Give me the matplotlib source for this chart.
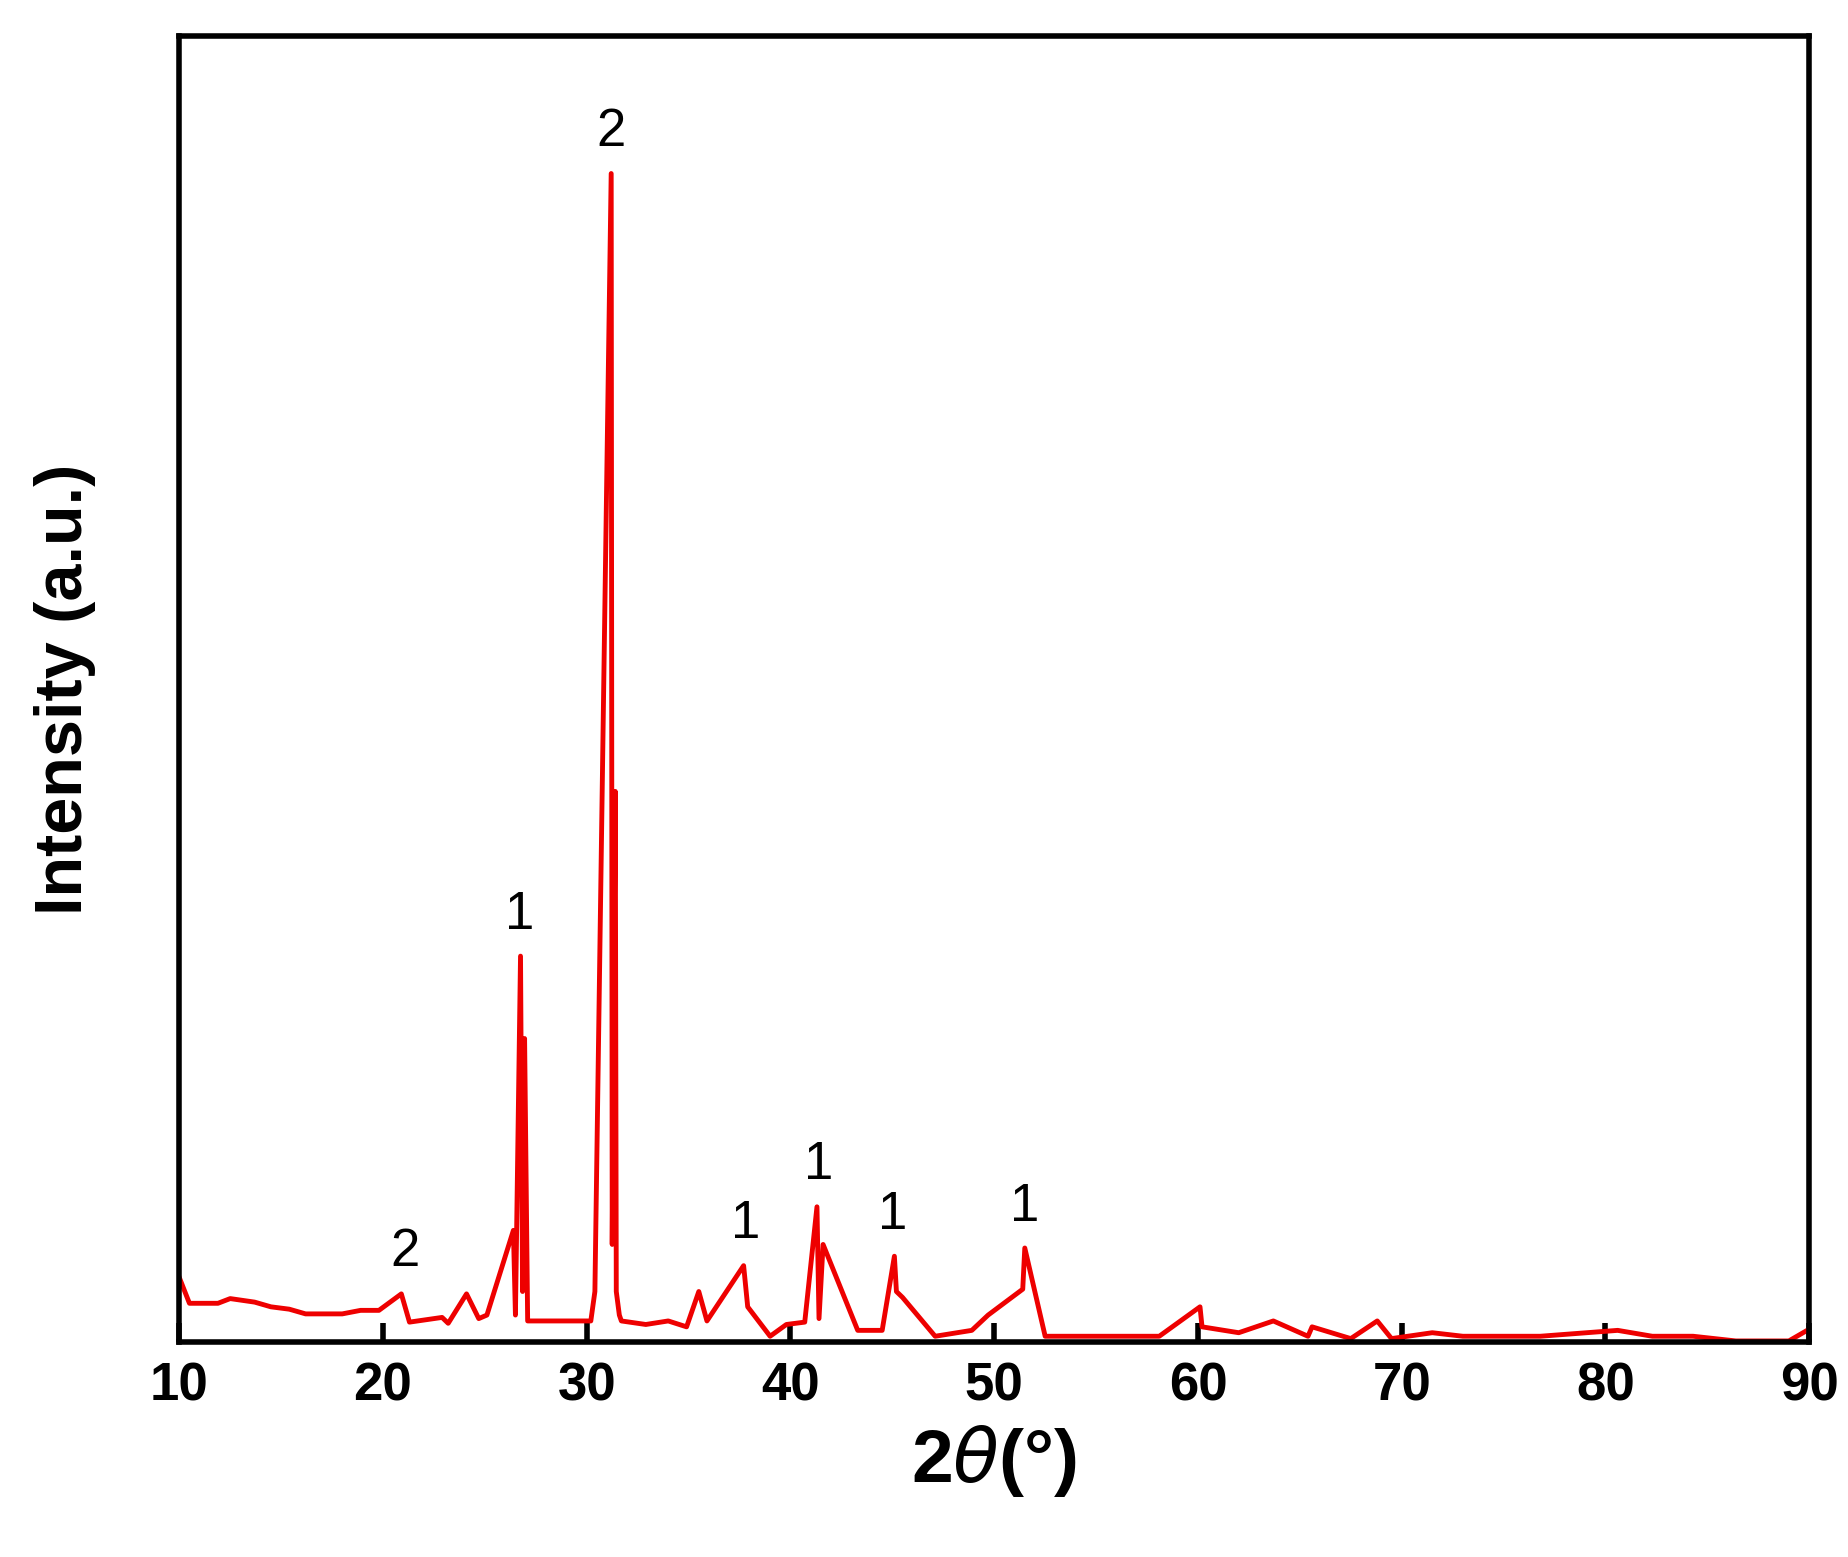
import matplotlib
matplotlib.use('Agg')
import matplotlib.pyplot as plt

plt.rcParams['font.family'] = ['Liberation Sans', 'DejaVu Sans']

# XRD pattern
two_theta = [10, 10.5, 11.9, 12.5, 13.7, 14.5, 15.4, 16.2, 18.0, 18.9, 19.8, 20.9, 21.3,
             22.9, 23.2, 24.1, 24.7, 25.1, 26.4, 26.5, 26.75, 26.85, 26.95, 27.1, 30.2,
             30.4, 31.2, 31.25, 31.4, 31.45, 31.6, 31.7, 32.9, 34.0, 34.9, 35.5, 35.9,
             37.7, 37.9, 39.0, 39.8, 40.7, 41.3, 41.4, 41.6, 43.3, 44.5, 45.1, 45.2, 45.5,
             47.1, 48.9, 49.7, 51.4, 51.5, 52.5, 58.1, 60.1, 60.2, 62.0, 63.7, 65.4, 65.6,
             67.5, 68.8, 69.5, 71.5, 73.0, 76.8, 80.6, 82.3, 84.3, 86.4, 89.0, 90]
intensity = [55, 33, 33, 37, 34, 30, 28, 24, 24, 27, 27, 41, 17,
             21, 16, 41, 20, 23, 95, 23, 328, 43, 258, 18, 18,
             43, 993, 83, 468, 43, 23, 18, 15, 18, 13, 43, 18,
             65, 30, 5, 15, 17, 115, 20, 83, 10, 10, 73, 43, 38,
             5, 10, 23, 45, 80, 5, 5, 30, 13, 8, 18, 5, 13,
             3, 18, 3, 8, 5, 5, 10, 5, 5, 1, 1, 11]

peak_x = [21.1, 26.7, 31.2, 37.8, 41.4, 45.0, 51.5]
peak_y = [43, 330, 995, 67, 117, 75, 82]
peak_labels = ['2', '1', '2', '1', '1', '1', '1']

fig = plt.figure(figsize=(18.48, 15.57), dpi=100)
ax = fig.add_axes([0.097, 0.138, 0.882, 0.839])
ax.plot(two_theta, intensity, color='#ee0000', lw=3.5)
for x, y, s in zip(peak_x, peak_y, peak_labels):
    ax.text(x, y + 12, s, ha='center', va='bottom', fontsize=38)

ax.set_xlim(10, 90)
ax.set_ylim(0, 1110)
ax.set_xticks(range(10, 91, 10))
ax.set_yticks([])
ax.tick_params(axis='x', direction='in', length=14, width=4, labelsize=38, pad=14)
for lbl in ax.get_xticklabels():
    lbl.set_fontweight('bold')
for sp in ax.spines.values():
    sp.set_linewidth(4)
ax.set_xlabel(r'2$\theta$(°)', fontsize=54, fontweight='bold', labelpad=8)
ax.set_ylabel('Intensity (a.u.)', fontsize=48, fontweight='bold', labelpad=60)

fig.savefig('out.png')
